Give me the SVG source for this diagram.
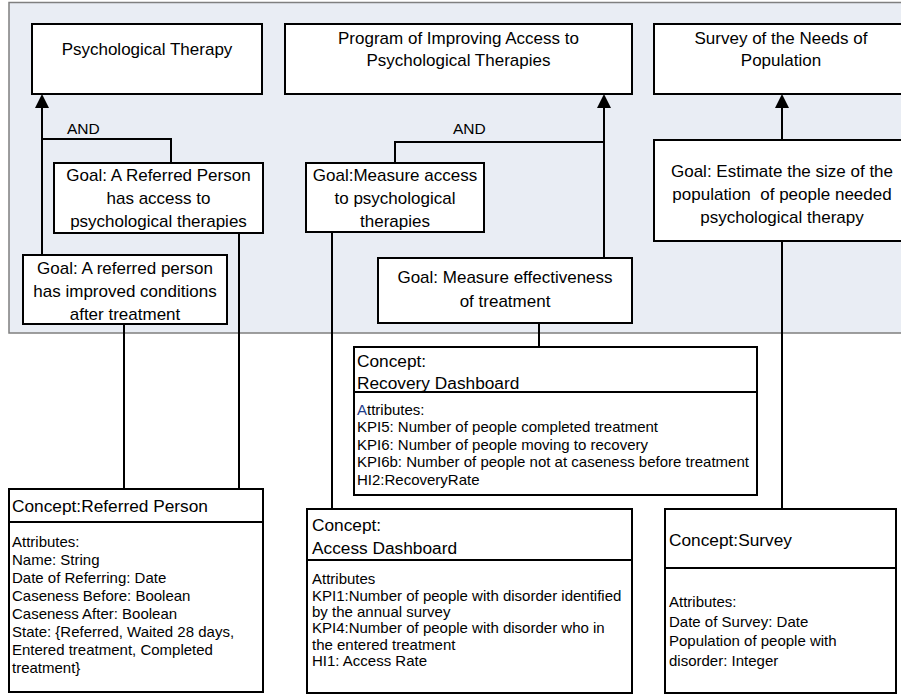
<svg xmlns="http://www.w3.org/2000/svg" width="901" height="694" viewBox="0 0 901 694">
<style>
.box{fill:#fff;stroke:#000;stroke-width:2}
.div{stroke:#000;stroke-width:2}
.t{font-family:"Liberation Sans",Arial,sans-serif;fill:#000}
.g{font-size:17px;text-anchor:middle}
.h{font-size:17.3px}
.b{font-size:15px}
.and{font-size:15.5px}
.c{fill:none;stroke:#000;stroke-width:2}
</style>
<defs>
<marker id="arr" viewBox="0 0 14 14" refX="4" refY="7" markerWidth="14" markerHeight="14" markerUnits="userSpaceOnUse" orient="auto">
<path d="M0,0 L14,7 L0,14 z" fill="#000"/>
</marker>
</defs>
<rect id="panel" x="9" y="2.5" width="900" height="330.5" fill="#e9edf4" stroke="#7f7f7f" stroke-width="1.5"/>

<g id="connectors">
<path class="c" d="M42,255 V104" marker-end="url(#arr)"/>
<path class="c" d="M42,139 H171 V163"/>
<path class="c" d="M604,258 V104" marker-end="url(#arr)"/>
<path class="c" d="M395,163 V142 H604"/>
<path class="c" d="M782,140 V104" marker-end="url(#arr)"/>
<path class="c" d="M124,324 V489"/>
<path class="c" d="M239,233 V489"/>
<path class="c" d="M332,232 V509"/>
<path class="c" d="M539,323 V347"/>
<path class="c" d="M782,241 V509"/>
<text class="t and" x="67" y="134">AND</text>
<text class="t and" x="453" y="134">AND</text>
</g>

<g id="psychological-therapy">
<rect class="box" x="32" y="24" width="230" height="70"/>
<text class="t g" x="147" y="55">Psychological Therapy</text>
</g>

<g id="iapt-program">
<rect class="box" x="285" y="24" width="347" height="70"/>
<text class="t g" x="458.5" y="44">Program of Improving Access to</text>
<text class="t g" x="458.5" y="66">Psychological Therapies</text>
</g>

<g id="survey-needs">
<rect class="box" x="654" y="24" width="260" height="70"/>
<text class="t g" x="781" y="44">Survey of the Needs of</text>
<text class="t g" x="781" y="66">Population</text>
</g>

<g id="goal-access">
<rect class="box" x="54" y="163" width="209" height="70"/>
<text class="t g" x="158.5" y="181">Goal: A Referred Person</text>
<text class="t g" x="158.5" y="204">has access to</text>
<text class="t g" x="158.5" y="227">psychological therapies</text>
</g>

<g id="goal-improved">
<rect class="box" x="23" y="255" width="204" height="69"/>
<text class="t g" x="125" y="274">Goal: A referred person</text>
<text class="t g" x="125" y="297">has improved conditions</text>
<text class="t g" x="125" y="320">after treatment</text>
</g>

<g id="goal-measure-access">
<rect class="box" x="306" y="163" width="178" height="69"/>
<text class="t g" x="395" y="181">Goal:Measure access</text>
<text class="t g" x="395" y="204">to psychological</text>
<text class="t g" x="395" y="227">therapies</text>
</g>

<g id="goal-measure-effectiveness">
<rect class="box" x="378" y="258" width="254" height="65"/>
<text class="t g" x="505" y="283">Goal: Measure effectiveness</text>
<text class="t g" x="505" y="307">of treatment</text>
</g>

<g id="goal-estimate">
<rect class="box" x="654" y="140" width="260" height="101"/>
<text class="t g" x="782" y="177">Goal: Estimate the size of the</text>
<text class="t g" x="782" y="200" xml:space="preserve">population  of people needed</text>
<text class="t g" x="782" y="223">psychological therapy</text>
</g>

<g id="concept-recovery-dashboard">
<rect class="box" x="354" y="347" width="403" height="148"/>
<line class="div" x1="354" y1="392" x2="757" y2="392"/>
<text class="t h" x="357" y="367">Concept:</text>
<text class="t h" x="357" y="389">Recovery Dashboard</text>
<text class="t b" x="357" y="415"><tspan fill="#1f3d8a">A</tspan>ttributes:</text>
<text class="t b" x="357" y="432">KPI5: Number of people completed treatment</text>
<text class="t b" x="357" y="450">KPI6: Number of people moving to recovery</text>
<text class="t b" x="357" y="467">KPI6b: Number of people not at caseness before treatment</text>
<text class="t b" x="357" y="485">HI2:RecoveryRate</text>
</g>

<g id="concept-referred-person">
<rect class="box" x="9" y="489" width="254" height="203"/>
<line class="div" x1="9" y1="522" x2="263" y2="522"/>
<text class="t h" x="12" y="512">Concept:Referred Person</text>
<text class="t b" x="12" y="547">Attributes:</text>
<text class="t b" x="12" y="565">Name: String</text>
<text class="t b" x="12" y="583">Date of Referring: Date</text>
<text class="t b" x="12" y="601">Caseness Before: Boolean</text>
<text class="t b" x="12" y="619">Caseness After: Boolean</text>
<text class="t b" x="12" y="637">State: {Referred, Waited 28 days,</text>
<text class="t b" x="12" y="655">Entered treatment, Completed</text>
<text class="t b" x="12" y="673">treatment}</text>
</g>

<g id="concept-access-dashboard">
<rect class="box" x="307" y="509" width="325" height="184"/>
<line class="div" x1="307" y1="560" x2="632" y2="560"/>
<text class="t h" x="312" y="531">Concept:</text>
<text class="t h" x="312" y="554">Access Dashboard</text>
<text class="t b" x="312" y="584">Attributes</text>
<text class="t b" x="312" y="601">KPI1:Number of people with disorder identified</text>
<text class="t b" x="312" y="617">by the annual survey</text>
<text class="t b" x="312" y="633">KPI4:Number of people with disorder who in</text>
<text class="t b" x="312" y="650">the entered treatment</text>
<text class="t b" x="312" y="666">HI1: Access Rate</text>
</g>

<g id="concept-survey">
<rect class="box" x="665" y="509" width="231" height="184"/>
<line class="div" x1="665" y1="568" x2="896" y2="568"/>
<text class="t h" x="669" y="546">Concept:Survey</text>
<text class="t b" x="669" y="607">Attributes:</text>
<text class="t b" x="669" y="627">Date of Survey: Date</text>
<text class="t b" x="669" y="646">Population of people with</text>
<text class="t b" x="669" y="666">disorder: Integer</text>
</g>
</svg>
